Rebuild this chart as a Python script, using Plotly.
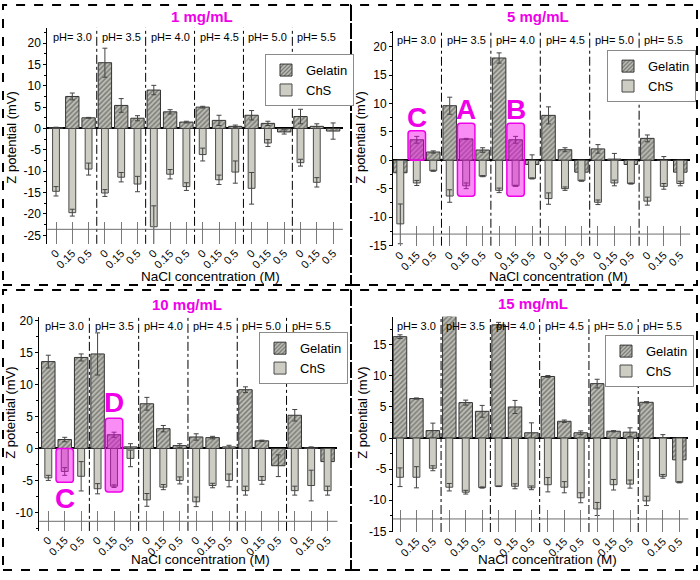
import plotly.graph_objects as go
from plotly.subplots import make_subplots

# ---------------- data ----------------
ph_levels = ["3.0", "3.5", "4.0", "4.5", "5.0", "5.5"]
nacl_levels = ["0", "0.15", "0.5"]
panel_titles = ["1 mg/mL", "5 mg/mL", "10 mg/mL", "15 mg/mL"]

# 1 mg/mL
gel1 = [0.2, 7.5, 2.5, 15.4, 5.4, 2.4, 9.0, 3.9, 1.5, 5.0, 1.9, 0.5, 3.1, 1.2, -0.8, 2.8, 0.5, -0.6]
gel1_err = [0.1, 0.8, 0.1, 3.4, 1.6, 0.6, 1.1, 0.5, 0.2, 0.2, 1.2, 0.3, 1.1, 0.5, 0.5, 1.7, 0.6, 1.9]
chs1 = [-14.7, -19.7, -9.5, -15.1, -11.4, -13.0, -23.0, -10.7, -13.6, -6.1, -12.0, -10.2, -14.0, -3.4, None, -8.0, -12.6, None]
chs1_err = [1.1, 0.8, 1.4, 0.8, 1.1, 1.8, 4.9, 1.1, 0.9, 1.5, 1.1, 2.6, 3.7, 0.8, 0, 0.8, 1.1, 0]

# 5 mg/mL
gel2 = [-2.2, 3.6, 1.45, 9.6, 3.75, 1.8, 18.0, 3.6, -0.75, 7.9, 1.85, -2.1, 2.0, 0.2, -0.75, 3.85, 0.05, -2.1]
gel2_err = [0, 0.6, 0.2, 1.5, 0.1, 0.4, 0.9, 0.6, 1.7, 1.5, 0.35, 0, 0.75, 1.0, 0, 0.6, 0.6, 0]
chs2 = [-11.2, -4.0, -1.85, -6.3, -4.5, -2.8, -5.3, -4.5, -3.2, -6.75, -5.0, -3.6, -7.4, -4.0, -4.1, -7.2, -4.6, -4.1]
chs2_err = [3.5, 0.45, 0.1, 1.1, 0.5, 0.1, 0.4, 0.1, 0.1, 1.0, 0.3, 0.1, 0.4, 0.5, 0.1, 0.7, 0.5, 0.4]

# 10 mg/mL
gel3 = [13.6, 1.4, 14.25, 14.8, 2.15, 0.25, 7.0, 3.1, 0.45, 1.8, 1.7, 0.25, 9.2, 1.2, -2.7, 5.2, 0.1, -2.05]
gel3_err = [1.0, 0.35, 0.55, 3.3, 0.4, 0.5, 1.0, 0.5, 0.3, 0.5, 0.2, 0.25, 0.45, 0.1, 1.7, 0.9, 0.15, 1.1]
chs3 = [-4.6, -3.6, -4.35, -6.3, -5.9, -1.55, -8.05, -6.05, -5.0, -8.35, -5.8, -5.0, -6.6, -5.0, None, -6.6, -5.8, -6.6]
chs3_err = [0.4, 0.6, 2.3, 0.8, 0.2, 1.3, 1.0, 0.4, 0.55, 0.75, 0.35, 1.0, 0.7, 0.6, 0, 0.7, 2.4, 0.7]

# 15 mg/mL
gel4 = [16.3, 6.35, 1.2, 19.6, 5.7, 4.3, 18.2, 5.0, 0.85, 9.9, 2.7, 0.85, 8.75, 1.1, 0.95, 5.75, 0.05, -3.5]
gel4_err = [0.3, 0.1, 1.2, 0.0, 0.4, 0.95, 0.4, 1.05, 1.6, 0.15, 0.2, 0.3, 0.7, 0.1, 0.7, 0.1, 0.5, 0.5]
chs4 = [-6.3, -6.3, -4.85, -7.9, -8.7, -7.95, -7.75, -7.75, -8.0, -7.5, -7.9, -9.6, -11.4, -7.5, -7.4, -10.1, -6.15, -7.1]
chs4_err = [1.5, 1.7, 0.4, 0.6, 0.3, 0.1, 0.05, 0.4, 0.3, 1.15, 0.9, 0.8, 1.05, 0.85, 0.65, 0.75, 0.3, 0.1]

# highlighted bars: (panel, label, category index, y low, y high, label y)
highlights = [
    (1, "C", 1, 0.0, 5.2, 7.6),
    (1, "A", 4, -6.35, 6.5, 8.9),
    (1, "B", 7, -6.35, 6.5, 8.9),
    (2, "C", 1, -5.3, 0.0, -7.8),
    (2, "D", 4, -6.8, 4.75, 7.2),
]

series = [(gel1, gel1_err, chs1, chs1_err), (gel2, gel2_err, chs2, chs2_err),
          (gel3, gel3_err, chs3, chs3_err), (gel4, gel4_err, chs4, chs4_err)]

n_ph, n_na = len(ph_levels), len(nacl_levels)
xs = list(range(n_ph * n_na))
ticktext = nacl_levels * n_ph

# ---------------- geometry (pixels) ----------------
W, H = 700, 580
geo = [
    dict(c0=56.0, s=16.3, xl=-0.53, xr=17.6, z=127.7, k=4.347, ylo=-27.0, yhi=23.6, yt=(-25, 20), base=-23.6, tl=22,
         leg=(265, 52), title=(202, 14), ytit=(12, 137), xtit=(210, 278)),
    dict(c0=400.3, s=16.47, xl=-0.44, xr=17.6, z=160.0, k=5.78, ylo=-15.05, yhi=22.8, yt=(-15, 20), base=-13.0, tl=20,
         leg=(607, 48), title=(538, 14), ytit=(361, 137), xtit=(558, 278)),
    dict(c0=48.3, s=16.43, xl=-0.55, xr=17.6, z=453.3, k=6.5, ylo=-12.9, yhi=20.6, yt=(-10, 20), base=-11.4, tl=20,
         leg=(259, 335), title=(187, 307), ytit=(11, 417), xtit=(200, 566)),
    dict(c0=400.0, s=16.43, xl=-0.44, xr=17.55, z=442.7, k=6.33, ylo=-15.1, yhi=19.5, yt=(-15, 15), base=-13.0, tl=22,
         leg=(605, 338), title=(533, 306), ytit=(363, 417), xtit=(547, 566)),
]

FONT = "Liberation Sans, Arial, sans-serif"
MAG = "#f000e8"
GEL_BG = "#bfbfb7"
CHS_BG = "#cdcdc4"

fig = make_subplots(rows=2, cols=2)

shapes = []
annotations = []


def paper_text(text, px, py, size, color="black", angle=0):
    return dict(text=text, x=px / W, y=1 - py / H, xref="paper", yref="paper",
                xanchor="center", yanchor="middle", textangle=angle, showarrow=False,
                font=dict(size=size, color=color, family=FONT))


for i, (g, ge, c, ce) in enumerate(series):
    row, col = i // 2 + 1, i % 2 + 1
    leg = "legend" if i == 0 else f"legend{i+1}"
    fig.add_trace(go.Bar(
        x=xs, y=g, width=0.82, name="Gelatin", legend=leg,
        marker=dict(color=GEL_BG, line=dict(color="#333333", width=1),
                    pattern=dict(shape="/", fgcolor="#353535", bgcolor=GEL_BG, size=3.5, solidity=0.45)),
        error_y=dict(type="data", array=ge, color="#444444", thickness=1, width=2.5),
    ), row=row, col=col)
    fig.add_trace(go.Bar(
        x=xs, y=c, width=0.42, name="ChS", legend=leg,
        marker=dict(color=CHS_BG, line=dict(color="#4a4a4a", width=1)),
        error_y=dict(type="data", array=ce, color="#444444", thickness=1, width=2.5),
    ), row=row, col=col)

    p = geo[i]
    xl_px = p["c0"] + p["xl"] * p["s"]
    xr_px = p["c0"] + p["xr"] * p["s"]
    yt_px = p["z"] - p["yhi"] * p["k"]
    yb_px = p["z"] - p["ylo"] * p["k"]
    sfx = "" if i == 0 else str(i + 1)
    xa, ya = "x" + sfx, "y" + sfx

    fig.layout["xaxis" + sfx].update(
        domain=[xl_px / W, xr_px / W], range=[p["xl"], p["xr"]],
        tickmode="array", tickvals=xs, ticktext=ticktext, tickangle=-45,
        ticks="inside", ticklen=p["tl"], tickcolor="#7a7a7a", tickwidth=1,
        showline=False, showgrid=False, zeroline=False,
        tickfont=dict(size=11, color="black", family=FONT),
    )
    yvals = list(range(p["yt"][0], p["yt"][1] + 1, 5))
    fig.layout["yaxis" + sfx].update(
        domain=[1 - yb_px / H, 1 - yt_px / H], range=[p["ylo"], p["yhi"]],
        tickmode="array", tickvals=yvals, ticktext=[str(v) for v in yvals],
        ticks="outside", ticklen=3, tickcolor="black",
        minor=dict(ticks="outside", ticklen=2, dtick=2.5, tickcolor="black"),
        showline=True, linecolor="black", linewidth=1, showgrid=False,
        zeroline=True, zerolinecolor="black", zerolinewidth=1.5,
        tickfont=dict(size=12, color="black", family=FONT),
    )

    # axis titles
    annotations.append(paper_text("Z potential (mV)", p["ytit"][0], p["ytit"][1], 13, angle=-90))
    annotations.append(paper_text("NaCl concentration (M)", p["xtit"][0], p["xtit"][1], 13.5))

    # pH separators
    for j in range(1, n_ph):
        xv = j * n_na - 0.5
        shapes.append(dict(type="line", xref=xa, yref=ya + " domain", x0=xv, x1=xv, y0=0, y1=1,
                           line=dict(color="black", width=1, dash="dashdot")))
    # lower reference line
    shapes.append(dict(type="line", xref=xa + " domain", yref=ya, x0=0, x1=1, y0=p["base"], y1=p["base"],
                       line=dict(color="#6e6e6e", width=1)))
    # pH labels
    for j, ph in enumerate(ph_levels):
        annotations.append(dict(text=f"pH= {ph}", x=j * n_na + (n_na - 1) / 2, xref=xa, xanchor="center",
                                y=1, yref=ya + " domain", yanchor="top", yshift=-1, showarrow=False,
                                font=dict(size=11, color="black", family=FONT)))
    # panel title
    annotations.append(paper_text(f"<b>{panel_titles[i]}</b>", p["title"][0], p["title"][1], 15, color=MAG))
    # legend
    fig.layout[leg] = dict(x=p["leg"][0] / W, y=1 - p["leg"][1] / H, xanchor="left", yanchor="top",
                           bordercolor="#8a8a8a", borderwidth=1, bgcolor="white",
                           font=dict(size=13, color="black", family=FONT),
                           tracegroupgap=0, itemwidth=30)

# highlight boxes (rounded) and letters
for pi, lab, idx, y0, y1, ly in highlights:
    p = geo[pi]
    sfx = "" if pi == 0 else str(pi + 1)
    xa, ya = "x" + sfx, "y" + sfx
    hw = 0.53
    x0, x1 = idx - hw, idx + hw
    rx = 3.0 / p["s"]
    ry = 3.0 / p["k"]
    path = (f"M {x0+rx},{y0} L {x1-rx},{y0} Q {x1},{y0} {x1},{y0+ry} "
            f"L {x1},{y1-ry} Q {x1},{y1} {x1-rx},{y1} L {x0+rx},{y1} "
            f"Q {x0},{y1} {x0},{y1-ry} L {x0},{y0+ry} Q {x0},{y0} {x0+rx},{y0} Z")
    shapes.append(dict(type="path", path=path, xref=xa, yref=ya, layer="above",
                       fillcolor="rgba(245,0,235,0.45)", line=dict(color=MAG, width=1.5)))
    annotations.append(dict(text=f"<b>{lab}</b>", x=idx, y=ly, xref=xa, yref=ya, showarrow=False,
                            xanchor="center", yanchor="middle",
                            font=dict(size=28, color=MAG, family=FONT)))

# dashed panel frames
for (a, b, c_, d) in [(3, 2, 351, 287), (351, 2, 697, 287), (3, 292, 351, 577), (351, 292, 697, 577)]:
    shapes.append(dict(type="rect", xref="paper", yref="paper", x0=a / W, x1=c_ / W, y0=1 - d / H, y1=1 - b / H,
                       line=dict(color="black", width=2, dash="dash"), fillcolor="rgba(0,0,0,0)"))

fig.update_layout(
    width=W, height=H, margin=dict(l=0, r=0, t=0, b=0),
    paper_bgcolor="white", plot_bgcolor="white",
    barmode="overlay", shapes=shapes, annotations=annotations,
    font=dict(family=FONT, color="black"),
)

fig.write_html("out.html")
